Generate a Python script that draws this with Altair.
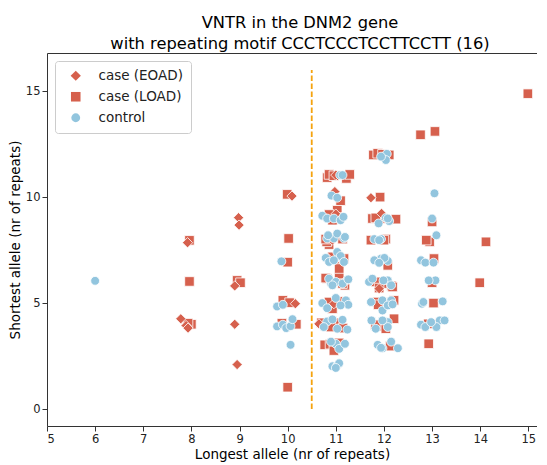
import altair as alt
import pandas as pd

# ---- data (jittered positions) ----
eoad_x = [7.92, 7.78, 7.89, 7.93, 8.98, 8.99, 8.90, 8.90, 8.95, 10.09, 10.16, 10.98, 11.00, 11.00,
          10.93, 10.84, 10.96, 10.65, 11.73, 11.95, 11.90]
eoad_y = [7.85, 4.26, 3.94, 3.82, 9.03, 8.68, 5.81, 4.00, 2.10, 10.05, 4.97, 10.26, 11.04, 9.20,
          7.97, 7.10, 4.97, 4.02, 9.97, 9.23, 5.68]

load_x = [7.96, 7.96, 8.00, 7.93, 8.95, 9.02,
          9.99, 10.02, 10.00, 9.90, 10.04, 10.18, 9.88, 10.00,
          10.82, 10.86, 10.96, 11.22, 11.29, 11.10,
          10.93, 11.03, 11.05, 10.86,
          11.14, 10.86, 10.81, 10.79,
          11.07, 10.93, 11.17,
          10.82, 11.07, 11.19, 11.07, 10.79, 11.14,
          11.05, 10.93, 10.86,
          10.70, 11.00, 11.15, 10.90,
          10.77, 10.88, 11.07, 10.96,
          11.78, 11.87, 11.97, 12.11, 11.92,
          11.76, 11.94, 12.25, 11.83,
          11.73, 12.04, 12.00, 12.08,
          11.83, 12.02, 11.90, 12.16, 12.18,
          11.87, 12.21, 11.88,
          11.92, 12.21, 12.04, 11.82, 12.13,
          12.76, 13.06, 13.00, 12.95, 12.88, 13.04, 13.00, 13.03, 12.92, 13.04, 12.93,
          14.12, 13.99, 14.99]
load_y = [7.96, 6.02, 4.00, 4.05, 6.07, 5.96,
          10.13, 8.05, 6.93, 5.13, 5.02, 4.00, 4.05, 1.03,
          10.92, 11.07, 11.01, 10.88, 11.07, 9.83,
          8.91, 9.38, 9.04, 9.18,
          8.02, 7.76, 7.89, 8.02,
          6.74, 7.18, 7.10,
          6.15, 6.23, 5.84, 6.63, 6.18, 5.92,
          5.08, 4.73, 5.05,
          4.07, 4.07, 3.82, 3.87,
          3.03, 3.06, 3.12, 2.76,
          11.99, 12.07, 12.02, 11.99, 10.00,
          8.99, 8.99, 8.96, 9.02,
          7.97, 8.02, 7.97, 6.78,
          6.00, 5.92, 5.71, 5.81, 5.76,
          5.05, 5.13, 4.92,
          3.91, 4.26, 3.79, 3.98, 2.97,
          12.94, 13.10, 8.83, 7.89, 7.97, 7.10, 5.96, 5.00, 4.02, 4.02, 3.08,
          7.89, 5.96, 14.88]

ctrl_x = [6.00,
          9.87, 9.78, 9.90, 9.78, 9.90, 9.97, 10.06, 10.10, 10.06,
          11.09, 11.14, 10.91, 11.03,
          10.72, 10.82, 10.96, 11.10, 11.16,
          10.82, 10.96, 11.03, 11.17, 10.84, 11.19,
          10.79, 10.86, 11.03, 11.10, 10.96, 11.17,
          10.90, 11.24, 10.86, 11.00, 11.14, 11.26, 10.93,
          10.72, 10.82, 11.00, 11.21, 11.26, 11.10,
          10.82, 10.75, 11.14, 11.24, 11.03, 10.93,
          11.00, 11.07, 11.19, 10.90,
          10.93, 11.03, 11.07, 11.00,
          12.06, 12.04, 11.94,
          11.89, 12.04, 12.11, 12.08,
          11.80, 11.94, 11.90,
          11.94, 12.08, 12.01, 11.80, 11.90,
          11.69, 11.76, 12.08, 12.15, 11.99,
          11.73, 11.97, 12.15, 11.97, 12.08, 12.18,
          11.74, 12.08, 11.83, 11.97, 12.08,
          11.87, 11.97, 12.15, 12.29, 11.94,
          13.05, 13.00, 13.09, 12.77, 12.86, 13.03, 13.07, 12.93,
          12.79, 12.82, 13.22, 12.77, 12.86, 13.16, 13.26, 13.09, 12.98]
ctrl_y = [6.05,
          6.97, 4.84, 4.92, 3.90, 3.98, 3.82, 3.91, 4.24, 3.03,
          11.04, 11.04, 10.07, 9.97,
          9.12, 8.99, 8.99, 8.91, 9.07,
          8.05, 8.05, 8.28, 8.05, 8.20, 8.12,
          7.13, 6.94, 7.41, 7.22, 7.02, 6.94,
          5.92, 6.10, 6.15, 6.00, 5.92, 6.12, 5.84,
          5.00, 4.76, 5.24, 5.13, 4.92, 4.89,
          4.13, 3.87, 4.21, 3.75, 3.79, 4.23,
          3.08, 2.84, 3.08, 3.18,
          2.02, 2.05, 2.16, 1.94,
          12.04, 11.75, 11.91,
          8.76, 9.02, 8.87, 8.99,
          8.02, 8.02, 7.97,
          7.10, 6.99, 7.13, 7.02, 6.90,
          6.00, 6.15, 6.07, 5.84, 6.07,
          5.05, 5.13, 5.13, 4.65, 4.89, 4.94,
          4.18, 4.10, 3.79, 4.18, 3.87,
          3.03, 2.87, 3.18, 2.87, 2.89,
          10.18, 8.99, 8.20, 7.02, 6.91, 6.91, 6.07, 6.07,
          4.97, 5.05, 5.08, 3.98, 3.87, 4.18, 4.18, 3.87, 4.10]

groups = ["case (EOAD)", "case (LOAD)", "control"]
colors = ["#d6604d", "#d6604d", "#92c5de"]
shapes = ["diamond", "square", "circle"]
sizes = [105, 78, 78]

threshold_x = [10.5]
threshold_y = [0]
threshold_y2 = [16]

rows = []
for gx, gy, g in [(load_x, load_y, groups[1]), (eoad_x, eoad_y, groups[0]), (ctrl_x, ctrl_y, groups[2])]:
    for a, b in zip(gx, gy):
        rows.append({"x": a, "y": b, "group": g})
df = pd.DataFrame(rows)

xscale = alt.Scale(domain=[5, 15.18], nice=False, zero=False)
yscale = alt.Scale(domain=[-0.8, 16.8], nice=False, zero=False)

points = alt.Chart(df).mark_point(filled=True, stroke="white", strokeWidth=0.8, opacity=1).encode(
    x=alt.X("x:Q", scale=xscale,
            axis=alt.Axis(values=list(range(5, 16)), title="Longest allele (nr of repeats)")),
    y=alt.Y("y:Q", scale=yscale,
            axis=alt.Axis(values=[0, 5, 10, 15], title="Shortest allele (nr of repeats)")),
    fill=alt.Fill("group:N", scale=alt.Scale(domain=groups, range=colors),
                  legend=alt.Legend(title=None, orient="none", legendX=8, legendY=8)),
    shape=alt.Shape("group:N", scale=alt.Scale(domain=groups, range=shapes),
                    legend=alt.Legend(title=None, orient="none", legendX=8, legendY=8)),
    size=alt.Size("group:N", scale=alt.Scale(domain=groups, range=sizes),
                  legend=alt.Legend(title=None, orient="none", legendX=8, legendY=8)),
)

tdf = pd.DataFrame({"x": threshold_x, "y": threshold_y, "y2": threshold_y2})
rule = alt.Chart(tdf).mark_rule(color="#f5a30f", strokeWidth=1.8, strokeDash=[5.5, 2.5]).encode(
    x=alt.X("x:Q", scale=xscale),
    y=alt.Y("y:Q", scale=yscale),
    y2="y2:Q",
)

chart = alt.layer(rule, points).properties(
    width=490,
    height=373,
    padding={"left": 0, "top": 6, "right": 0, "bottom": 2},
    title=alt.TitleParams(
        text=["VNTR in the DNM2 gene", "with repeating motif CCCTCCCTCCTTCCTT (16)"],
        font="DejaVu Sans", fontSize=16.3, fontWeight="normal", color="black",
        anchor="middle", lineHeight=21, offset=1, dx=8,
    ),
).configure_view(
    stroke="#333333", strokeWidth=1
).configure_axis(
    grid=False, domain=False, tickColor="#333333", tickSize=5, tickWidth=1,
    labelFont="DejaVu Sans", labelFontSize=11.5, labelColor="#222222", labelPadding=2,
    titleFont="DejaVu Sans", titleFontSize=13.5, titleFontWeight="normal", titleColor="black",
    titlePadding=3,
).configure_legend(
    labelFont="DejaVu Sans", labelFontSize=13.5, labelColor="#222222",
    fillColor="rgba(255,255,255,0.85)", strokeColor="#cccccc", cornerRadius=3,
    padding=8, rowPadding=6, symbolOffset=6, labelOffset=16,
    symbolStrokeColor="white", symbolStrokeWidth=0.8,
)

chart.save("out.html", embed_options={"renderer": "svg", "actions": False})
